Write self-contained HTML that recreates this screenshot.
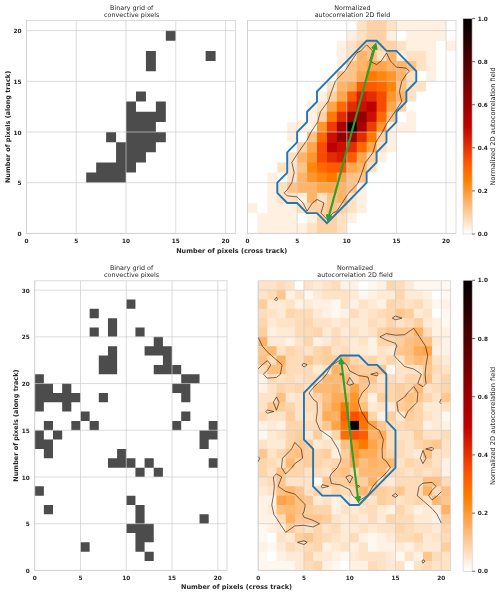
<!DOCTYPE html>
<html lang="en"><head><meta charset="utf-8"><title>Autocorrelation of convective pixel grids</title>
<style>html,body{margin:0;padding:0;background:#fff}svg{display:block}text{font-family:"DejaVu Sans","Liberation Sans",sans-serif}</style></head>
<body><svg width="500" height="595" viewBox="0 0 500 595">
<rect width="500" height="595" fill="#fff"/>
<path fill="#4c4c4c" d="M86.21 172.57H126.02V182.71H86.21ZM96.17 162.43H135.98V172.57H96.17ZM116.07 152.3H145.93V162.43H116.07ZM116.07 142.16H155.88V152.3H116.07ZM106.12 132.02H116.07V142.16H106.12ZM126.02 132.02H165.83V142.16H126.02ZM126.02 121.88H155.88V132.02H126.02ZM126.02 111.74H165.83V121.88H126.02ZM126.02 101.6H135.98V111.74H126.02ZM155.88 101.6H165.83V111.74H155.88ZM135.98 91.47H145.93V101.6H135.98ZM145.93 61.05H155.88V71.19H145.93ZM145.93 50.91H155.88V61.05H145.93ZM205.64 50.91H215.6V61.05H205.64ZM165.83 30.64H175.79V40.78H165.83Z"/>
<g stroke="#cccccc" stroke-width="0.7" fill="none"><line x1="26.5" y1="20.5" x2="26.5" y2="233.4"/><line x1="76.26" y1="20.5" x2="76.26" y2="233.4"/><line x1="126.02" y1="20.5" x2="126.02" y2="233.4"/><line x1="175.79" y1="20.5" x2="175.79" y2="233.4"/><line x1="225.55" y1="20.5" x2="225.55" y2="233.4"/><line x1="26.5" y1="233.4" x2="235.5" y2="233.4"/><line x1="26.5" y1="182.71" x2="235.5" y2="182.71"/><line x1="26.5" y1="132.02" x2="235.5" y2="132.02"/><line x1="26.5" y1="81.33" x2="235.5" y2="81.33"/><line x1="26.5" y1="30.64" x2="235.5" y2="30.64"/></g><rect x="26.5" y="20.5" width="209" height="212.9" fill="none" stroke="#d0d0d0" stroke-width="0.75"/>
<g font-size="5.75" font-weight="bold" fill="#262626"><text x="26.5" y="242.8" text-anchor="middle">0</text><text x="76.26" y="242.8" text-anchor="middle">5</text><text x="126.02" y="242.8" text-anchor="middle">10</text><text x="175.79" y="242.8" text-anchor="middle">15</text><text x="225.55" y="242.8" text-anchor="middle">20</text><text x="21.5" y="236" text-anchor="end">0</text><text x="21.5" y="185" text-anchor="end">5</text><text x="21.5" y="135" text-anchor="end">10</text><text x="21.5" y="84" text-anchor="end">15</text><text x="21.5" y="33" text-anchor="end">20</text></g>
<g font-size="6.4" fill="#262626" text-anchor="middle"><text x="131.7" y="10">Binary grid of</text><text x="131.7" y="17.2">convective pixels</text></g>
<text transform="translate(9.7 127) rotate(-90)" text-anchor="middle" font-size="6.5" font-weight="bold" fill="#262626">Number of pixels (along track)</text>
<g><rect x="247.5" y="20.5" width="109.81" height="10.74" fill="#ffffff"/><rect x="356.71" y="20.5" width="10.53" height="10.74" fill="#ffe1c3"/><rect x="366.64" y="20.5" width="20.46" height="10.74" fill="#ffd2a5"/><rect x="386.5" y="20.5" width="10.53" height="10.74" fill="#ffe1c3"/><rect x="396.43" y="20.5" width="50.24" height="10.74" fill="#fff0e1"/><rect x="446.07" y="20.5" width="9.93" height="10.74" fill="#ffffff"/><rect x="247.5" y="30.64" width="99.89" height="10.74" fill="#ffffff"/><rect x="346.79" y="30.64" width="10.53" height="10.74" fill="#fff0e1"/><rect x="356.71" y="30.64" width="10.53" height="10.74" fill="#ffe1c3"/><rect x="366.64" y="30.64" width="20.46" height="10.74" fill="#ffd2a5"/><rect x="386.5" y="30.64" width="10.53" height="10.74" fill="#fff0e1"/><rect x="396.43" y="30.64" width="10.53" height="10.74" fill="#ffffff"/><rect x="406.36" y="30.64" width="40.31" height="10.74" fill="#fff0e1"/><rect x="446.07" y="30.64" width="9.93" height="10.74" fill="#ffffff"/><rect x="247.5" y="40.78" width="89.96" height="10.74" fill="#ffffff"/><rect x="336.86" y="40.78" width="10.53" height="10.74" fill="#fff0e1"/><rect x="346.79" y="40.78" width="10.53" height="10.74" fill="#ffe1c3"/><rect x="356.71" y="40.78" width="10.53" height="10.74" fill="#ffd2a5"/><rect x="366.64" y="40.78" width="10.53" height="10.74" fill="#ffc387"/><rect x="376.57" y="40.78" width="20.46" height="10.74" fill="#ffd2a5"/><rect x="396.43" y="40.78" width="10.53" height="10.74" fill="#ffe1c3"/><rect x="406.36" y="40.78" width="30.39" height="10.74" fill="#fff0e1"/><rect x="436.14" y="40.78" width="10.53" height="10.74" fill="#ffffff"/><rect x="446.07" y="40.78" width="9.93" height="10.74" fill="#fff0e1"/><rect x="247.5" y="50.91" width="89.96" height="10.74" fill="#ffffff"/><rect x="336.86" y="50.91" width="10.53" height="10.74" fill="#fff0e1"/><rect x="346.79" y="50.91" width="10.53" height="10.74" fill="#ffe1c3"/><rect x="356.71" y="50.91" width="10.53" height="10.74" fill="#ffb469"/><rect x="366.64" y="50.91" width="10.53" height="10.74" fill="#ffc387"/><rect x="376.57" y="50.91" width="10.53" height="10.74" fill="#ffe1c3"/><rect x="386.5" y="50.91" width="10.53" height="10.74" fill="#ffb469"/><rect x="396.43" y="50.91" width="10.53" height="10.74" fill="#fff0e1"/><rect x="406.36" y="50.91" width="20.46" height="10.74" fill="#ffe1c3"/><rect x="426.21" y="50.91" width="10.53" height="10.74" fill="#fff0e1"/><rect x="436.14" y="50.91" width="19.86" height="10.74" fill="#ffffff"/><rect x="247.5" y="61.05" width="89.96" height="10.74" fill="#ffffff"/><rect x="336.86" y="61.05" width="10.53" height="10.74" fill="#fff0e1"/><rect x="346.79" y="61.05" width="10.53" height="10.74" fill="#ffc387"/><rect x="356.71" y="61.05" width="10.53" height="10.74" fill="#ffb469"/><rect x="366.64" y="61.05" width="20.46" height="10.74" fill="#ffa54b"/><rect x="386.5" y="61.05" width="20.46" height="10.74" fill="#ffb469"/><rect x="406.36" y="61.05" width="10.53" height="10.74" fill="#ffc387"/><rect x="416.29" y="61.05" width="10.53" height="10.74" fill="#ffe1c3"/><rect x="426.21" y="61.05" width="10.53" height="10.74" fill="#fff0e1"/><rect x="436.14" y="61.05" width="19.86" height="10.74" fill="#ffffff"/><rect x="247.5" y="71.19" width="89.96" height="10.74" fill="#ffffff"/><rect x="336.86" y="71.19" width="20.46" height="10.74" fill="#ffc387"/><rect x="356.71" y="71.19" width="10.53" height="10.74" fill="#ffa54b"/><rect x="366.64" y="71.19" width="10.53" height="10.74" fill="#ff7800"/><rect x="376.57" y="71.19" width="10.53" height="10.74" fill="#ff870f"/><rect x="386.5" y="71.19" width="10.53" height="10.74" fill="#ff962d"/><rect x="396.43" y="71.19" width="10.53" height="10.74" fill="#ffb469"/><rect x="406.36" y="71.19" width="10.53" height="10.74" fill="#ffe1c3"/><rect x="416.29" y="71.19" width="10.53" height="10.74" fill="#ffffff"/><rect x="426.21" y="71.19" width="10.53" height="10.74" fill="#fff0e1"/><rect x="436.14" y="71.19" width="19.86" height="10.74" fill="#ffffff"/><rect x="247.5" y="81.33" width="80.03" height="10.74" fill="#ffffff"/><rect x="326.93" y="81.33" width="10.53" height="10.74" fill="#ffe1c3"/><rect x="336.86" y="81.33" width="10.53" height="10.74" fill="#ffb469"/><rect x="346.79" y="81.33" width="10.53" height="10.74" fill="#ffa54b"/><rect x="356.71" y="81.33" width="20.46" height="10.74" fill="#ff5a00"/><rect x="376.57" y="81.33" width="10.53" height="10.74" fill="#ff6900"/><rect x="386.5" y="81.33" width="10.53" height="10.74" fill="#ff870f"/><rect x="396.43" y="81.33" width="10.53" height="10.74" fill="#ffc387"/><rect x="406.36" y="81.33" width="20.46" height="10.74" fill="#ffe1c3"/><rect x="426.21" y="81.33" width="29.79" height="10.74" fill="#ffffff"/><rect x="247.5" y="91.47" width="70.1" height="10.74" fill="#ffffff"/><rect x="317" y="91.47" width="10.53" height="10.74" fill="#fff0e1"/><rect x="326.93" y="91.47" width="10.53" height="10.74" fill="#ffd2a5"/><rect x="336.86" y="91.47" width="10.53" height="10.74" fill="#ffa54b"/><rect x="346.79" y="91.47" width="10.53" height="10.74" fill="#ff5a00"/><rect x="356.71" y="91.47" width="10.53" height="10.74" fill="#d61e00"/><rect x="366.64" y="91.47" width="10.53" height="10.74" fill="#e12d00"/><rect x="376.57" y="91.47" width="10.53" height="10.74" fill="#f74b00"/><rect x="386.5" y="91.47" width="10.53" height="10.74" fill="#ff962d"/><rect x="396.43" y="91.47" width="10.53" height="10.74" fill="#ffb469"/><rect x="406.36" y="91.47" width="10.53" height="10.74" fill="#ffe1c3"/><rect x="416.29" y="91.47" width="39.71" height="10.74" fill="#ffffff"/><rect x="247.5" y="101.6" width="60.17" height="10.74" fill="#ffffff"/><rect x="307.07" y="101.6" width="10.53" height="10.74" fill="#fff0e1"/><rect x="317" y="101.6" width="10.53" height="10.74" fill="#ffe1c3"/><rect x="326.93" y="101.6" width="10.53" height="10.74" fill="#ffa54b"/><rect x="336.86" y="101.6" width="10.53" height="10.74" fill="#ff6900"/><rect x="346.79" y="101.6" width="10.53" height="10.74" fill="#e12d00"/><rect x="356.71" y="101.6" width="10.53" height="10.74" fill="#cb0f00"/><rect x="366.64" y="101.6" width="10.53" height="10.74" fill="#bf0000"/><rect x="376.57" y="101.6" width="10.53" height="10.74" fill="#f74b00"/><rect x="386.5" y="101.6" width="10.53" height="10.74" fill="#ffa54b"/><rect x="396.43" y="101.6" width="10.53" height="10.74" fill="#ffd2a5"/><rect x="406.36" y="101.6" width="49.64" height="10.74" fill="#ffffff"/><rect x="247.5" y="111.74" width="60.17" height="10.74" fill="#ffffff"/><rect x="307.07" y="111.74" width="10.53" height="10.74" fill="#fff0e1"/><rect x="317" y="111.74" width="10.53" height="10.74" fill="#ffd2a5"/><rect x="326.93" y="111.74" width="10.53" height="10.74" fill="#ff7800"/><rect x="336.86" y="111.74" width="10.53" height="10.74" fill="#e12d00"/><rect x="346.79" y="111.74" width="10.53" height="10.74" fill="#9e0000"/><rect x="356.71" y="111.74" width="10.53" height="10.74" fill="#920000"/><rect x="366.64" y="111.74" width="10.53" height="10.74" fill="#cb0f00"/><rect x="376.57" y="111.74" width="10.53" height="10.74" fill="#ff6900"/><rect x="386.5" y="111.74" width="10.53" height="10.74" fill="#ffc387"/><rect x="396.43" y="111.74" width="10.53" height="10.74" fill="#ffffff"/><rect x="406.36" y="111.74" width="10.53" height="10.74" fill="#fff0e1"/><rect x="416.29" y="111.74" width="39.71" height="10.74" fill="#ffffff"/><rect x="247.5" y="121.88" width="40.31" height="10.74" fill="#ffffff"/><rect x="287.21" y="121.88" width="30.39" height="10.74" fill="#fff0e1"/><rect x="317" y="121.88" width="10.53" height="10.74" fill="#ff962d"/><rect x="326.93" y="121.88" width="10.53" height="10.74" fill="#ec3c00"/><rect x="336.86" y="121.88" width="10.53" height="10.74" fill="#a90000"/><rect x="346.79" y="121.88" width="10.53" height="10.74" fill="#000000"/><rect x="356.71" y="121.88" width="10.53" height="10.74" fill="#a90000"/><rect x="366.64" y="121.88" width="10.53" height="10.74" fill="#ec3c00"/><rect x="376.57" y="121.88" width="10.53" height="10.74" fill="#ff962d"/><rect x="386.5" y="121.88" width="30.39" height="10.74" fill="#fff0e1"/><rect x="416.29" y="121.88" width="39.71" height="10.74" fill="#ffffff"/><rect x="247.5" y="132.02" width="40.31" height="10.74" fill="#ffffff"/><rect x="287.21" y="132.02" width="10.53" height="10.74" fill="#fff0e1"/><rect x="297.14" y="132.02" width="10.53" height="10.74" fill="#ffffff"/><rect x="307.07" y="132.02" width="10.53" height="10.74" fill="#ffc387"/><rect x="317" y="132.02" width="10.53" height="10.74" fill="#ff6900"/><rect x="326.93" y="132.02" width="10.53" height="10.74" fill="#cb0f00"/><rect x="336.86" y="132.02" width="10.53" height="10.74" fill="#920000"/><rect x="346.79" y="132.02" width="10.53" height="10.74" fill="#9e0000"/><rect x="356.71" y="132.02" width="10.53" height="10.74" fill="#e12d00"/><rect x="366.64" y="132.02" width="10.53" height="10.74" fill="#ff7800"/><rect x="376.57" y="132.02" width="10.53" height="10.74" fill="#ffd2a5"/><rect x="386.5" y="132.02" width="10.53" height="10.74" fill="#fff0e1"/><rect x="396.43" y="132.02" width="59.57" height="10.74" fill="#ffffff"/><rect x="247.5" y="142.16" width="50.24" height="10.74" fill="#ffffff"/><rect x="297.14" y="142.16" width="10.53" height="10.74" fill="#ffd2a5"/><rect x="307.07" y="142.16" width="10.53" height="10.74" fill="#ffa54b"/><rect x="317" y="142.16" width="10.53" height="10.74" fill="#f74b00"/><rect x="326.93" y="142.16" width="10.53" height="10.74" fill="#bf0000"/><rect x="336.86" y="142.16" width="10.53" height="10.74" fill="#cb0f00"/><rect x="346.79" y="142.16" width="10.53" height="10.74" fill="#e12d00"/><rect x="356.71" y="142.16" width="10.53" height="10.74" fill="#ff6900"/><rect x="366.64" y="142.16" width="10.53" height="10.74" fill="#ffa54b"/><rect x="376.57" y="142.16" width="10.53" height="10.74" fill="#ffe1c3"/><rect x="386.5" y="142.16" width="10.53" height="10.74" fill="#fff0e1"/><rect x="396.43" y="142.16" width="59.57" height="10.74" fill="#ffffff"/><rect x="247.5" y="152.3" width="40.31" height="10.74" fill="#ffffff"/><rect x="287.21" y="152.3" width="10.53" height="10.74" fill="#ffe1c3"/><rect x="297.14" y="152.3" width="10.53" height="10.74" fill="#ffb469"/><rect x="307.07" y="152.3" width="10.53" height="10.74" fill="#ff962d"/><rect x="317" y="152.3" width="10.53" height="10.74" fill="#f74b00"/><rect x="326.93" y="152.3" width="10.53" height="10.74" fill="#e12d00"/><rect x="336.86" y="152.3" width="10.53" height="10.74" fill="#d61e00"/><rect x="346.79" y="152.3" width="10.53" height="10.74" fill="#ff5a00"/><rect x="356.71" y="152.3" width="10.53" height="10.74" fill="#ffa54b"/><rect x="366.64" y="152.3" width="10.53" height="10.74" fill="#ffd2a5"/><rect x="376.57" y="152.3" width="10.53" height="10.74" fill="#fff0e1"/><rect x="386.5" y="152.3" width="69.5" height="10.74" fill="#ffffff"/><rect x="247.5" y="162.43" width="30.39" height="10.74" fill="#ffffff"/><rect x="277.29" y="162.43" width="20.46" height="10.74" fill="#ffe1c3"/><rect x="297.14" y="162.43" width="10.53" height="10.74" fill="#ffc387"/><rect x="307.07" y="162.43" width="10.53" height="10.74" fill="#ff870f"/><rect x="317" y="162.43" width="10.53" height="10.74" fill="#ff6900"/><rect x="326.93" y="162.43" width="20.46" height="10.74" fill="#ff5a00"/><rect x="346.79" y="162.43" width="10.53" height="10.74" fill="#ffa54b"/><rect x="356.71" y="162.43" width="10.53" height="10.74" fill="#ffb469"/><rect x="366.64" y="162.43" width="10.53" height="10.74" fill="#ffe1c3"/><rect x="376.57" y="162.43" width="79.43" height="10.74" fill="#ffffff"/><rect x="247.5" y="172.57" width="20.46" height="10.74" fill="#ffffff"/><rect x="267.36" y="172.57" width="10.53" height="10.74" fill="#fff0e1"/><rect x="277.29" y="172.57" width="10.53" height="10.74" fill="#ffffff"/><rect x="287.21" y="172.57" width="10.53" height="10.74" fill="#ffe1c3"/><rect x="297.14" y="172.57" width="10.53" height="10.74" fill="#ffb469"/><rect x="307.07" y="172.57" width="10.53" height="10.74" fill="#ff962d"/><rect x="317" y="172.57" width="10.53" height="10.74" fill="#ff870f"/><rect x="326.93" y="172.57" width="10.53" height="10.74" fill="#ff7800"/><rect x="336.86" y="172.57" width="10.53" height="10.74" fill="#ffa54b"/><rect x="346.79" y="172.57" width="20.46" height="10.74" fill="#ffc387"/><rect x="366.64" y="172.57" width="89.36" height="10.74" fill="#ffffff"/><rect x="247.5" y="182.71" width="20.46" height="10.74" fill="#ffffff"/><rect x="267.36" y="182.71" width="10.53" height="10.74" fill="#fff0e1"/><rect x="277.29" y="182.71" width="10.53" height="10.74" fill="#ffe1c3"/><rect x="287.21" y="182.71" width="10.53" height="10.74" fill="#ffc387"/><rect x="297.14" y="182.71" width="20.46" height="10.74" fill="#ffb469"/><rect x="317" y="182.71" width="20.46" height="10.74" fill="#ffa54b"/><rect x="336.86" y="182.71" width="10.53" height="10.74" fill="#ffb469"/><rect x="346.79" y="182.71" width="10.53" height="10.74" fill="#ffc387"/><rect x="356.71" y="182.71" width="10.53" height="10.74" fill="#fff0e1"/><rect x="366.64" y="182.71" width="89.36" height="10.74" fill="#ffffff"/><rect x="247.5" y="192.85" width="20.46" height="10.74" fill="#ffffff"/><rect x="267.36" y="192.85" width="10.53" height="10.74" fill="#fff0e1"/><rect x="277.29" y="192.85" width="20.46" height="10.74" fill="#ffe1c3"/><rect x="297.14" y="192.85" width="10.53" height="10.74" fill="#fff0e1"/><rect x="307.07" y="192.85" width="10.53" height="10.74" fill="#ffb469"/><rect x="317" y="192.85" width="10.53" height="10.74" fill="#ffe1c3"/><rect x="326.93" y="192.85" width="10.53" height="10.74" fill="#ffc387"/><rect x="336.86" y="192.85" width="10.53" height="10.74" fill="#ffb469"/><rect x="346.79" y="192.85" width="10.53" height="10.74" fill="#ffe1c3"/><rect x="356.71" y="192.85" width="10.53" height="10.74" fill="#fff0e1"/><rect x="366.64" y="192.85" width="89.36" height="10.74" fill="#ffffff"/><rect x="247.5" y="202.99" width="10.53" height="10.74" fill="#fff0e1"/><rect x="257.43" y="202.99" width="10.53" height="10.74" fill="#ffffff"/><rect x="267.36" y="202.99" width="30.39" height="10.74" fill="#fff0e1"/><rect x="297.14" y="202.99" width="10.53" height="10.74" fill="#ffe1c3"/><rect x="307.07" y="202.99" width="20.46" height="10.74" fill="#ffd2a5"/><rect x="326.93" y="202.99" width="10.53" height="10.74" fill="#ffc387"/><rect x="336.86" y="202.99" width="10.53" height="10.74" fill="#ffd2a5"/><rect x="346.79" y="202.99" width="10.53" height="10.74" fill="#ffe1c3"/><rect x="356.71" y="202.99" width="10.53" height="10.74" fill="#fff0e1"/><rect x="366.64" y="202.99" width="89.36" height="10.74" fill="#ffffff"/><rect x="247.5" y="213.12" width="10.53" height="10.74" fill="#ffffff"/><rect x="257.43" y="213.12" width="40.31" height="10.74" fill="#fff0e1"/><rect x="297.14" y="213.12" width="10.53" height="10.74" fill="#ffffff"/><rect x="307.07" y="213.12" width="10.53" height="10.74" fill="#fff0e1"/><rect x="317" y="213.12" width="20.46" height="10.74" fill="#ffd2a5"/><rect x="336.86" y="213.12" width="10.53" height="10.74" fill="#ffe1c3"/><rect x="346.79" y="213.12" width="10.53" height="10.74" fill="#fff0e1"/><rect x="356.71" y="213.12" width="99.29" height="10.74" fill="#ffffff"/><rect x="247.5" y="223.26" width="10.53" height="10.14" fill="#ffffff"/><rect x="257.43" y="223.26" width="50.24" height="10.14" fill="#fff0e1"/><rect x="307.07" y="223.26" width="10.53" height="10.14" fill="#ffe1c3"/><rect x="317" y="223.26" width="20.46" height="10.14" fill="#ffd2a5"/><rect x="336.86" y="223.26" width="10.53" height="10.14" fill="#ffe1c3"/><rect x="346.79" y="223.26" width="109.21" height="10.14" fill="#ffffff"/></g>
<g stroke="#cccccc" stroke-width="0.7" fill="none"><line x1="247.5" y1="20.5" x2="247.5" y2="233.4"/><line x1="297.14" y1="20.5" x2="297.14" y2="233.4"/><line x1="346.79" y1="20.5" x2="346.79" y2="233.4"/><line x1="396.43" y1="20.5" x2="396.43" y2="233.4"/><line x1="446.07" y1="20.5" x2="446.07" y2="233.4"/><line x1="247.5" y1="233.4" x2="456" y2="233.4"/><line x1="247.5" y1="182.71" x2="456" y2="182.71"/><line x1="247.5" y1="132.02" x2="456" y2="132.02"/><line x1="247.5" y1="81.33" x2="456" y2="81.33"/><line x1="247.5" y1="30.64" x2="456" y2="30.64"/></g><rect x="247.5" y="20.5" width="208.5" height="212.9" fill="none" stroke="#d0d0d0" stroke-width="0.75"/>
<path d="M320.97 213.12L326.93 219.21L332.89 213.12L336.86 211.1L342.15 202.99L346.79 195.89L348.77 192.85L356.71 184.74L358.2 182.71L362.01 172.57L365.32 162.43L366.64 161.08L373.1 152.3L375.91 142.16L376.57 141.14L382.53 132.02L386.5 123.91L387.99 121.88L395.1 111.74L396.43 109.72L401.72 101.6L399.41 91.47L401.72 81.33L406.36 74.23L409.34 71.19L406.36 68.15L396.43 67.14L390.47 61.05L386.5 52.94L381.2 61.05L376.57 64.6L369.62 61.05L372.6 50.91L366.64 44.83L360.69 50.91L356.71 52.94L351.42 61.05L346.79 68.15L344.8 71.19L336.86 79.3L335.37 81.33L331.56 91.47L328.25 101.6L326.93 102.96L320.48 111.74L317.66 121.88L317 122.89L311.04 132.02L307.07 140.13L305.58 142.16L298.47 152.3L297.14 154.32L291.85 162.43L294.16 172.57L291.85 182.71L287.21 189.81L284.24 192.85L287.21 195.89L297.14 196.9L303.1 202.99L307.07 211.1L312.37 202.99L317 199.44L323.95 202.99Z" fill="none" stroke="#000" stroke-width="0.55" stroke-linejoin="round"/>
<path d="M366.64 40.78L376.57 40.78L386.5 50.91L396.43 50.91L406.36 61.05L416.29 71.19L416.29 81.33L406.36 91.47L406.36 101.6L396.43 111.74L396.43 121.88L386.5 132.02L386.5 142.16L376.57 152.3L376.57 162.43L366.64 172.57L366.64 182.71L356.71 192.85L346.79 202.99L336.86 213.12L326.93 223.26L317 213.12L307.07 213.12L297.14 202.99L287.21 202.99L277.29 192.85L277.29 182.71L287.21 172.57L287.21 162.43L287.21 152.3L297.14 142.16L297.14 132.02L307.07 121.88L307.07 111.74L317 101.6L317 91.47L326.93 81.33L336.86 71.19L346.79 61.05L356.71 50.91Z" fill="none" stroke="#1f77b4" stroke-width="1.9" stroke-linejoin="miter"/>
<path d="M327.93 219.6L375.57 44.44M331.53 215.57L327.93 219.6L326.86 214.3M371.97 48.47L375.57 44.44L376.64 49.74" fill="none" stroke="#2ca02c" stroke-width="2.1" stroke-linejoin="miter" stroke-linecap="butt"/>
<g font-size="5.75" font-weight="bold" fill="#262626"><text x="247.5" y="242.8" text-anchor="middle">0</text><text x="297.14" y="242.8" text-anchor="middle">5</text><text x="346.79" y="242.8" text-anchor="middle">10</text><text x="396.43" y="242.8" text-anchor="middle">15</text><text x="446.07" y="242.8" text-anchor="middle">20</text></g>
<g font-size="6.4" fill="#262626" text-anchor="middle"><text x="352.45" y="10">Normalized</text><text x="352.45" y="17.2">autocorrelation 2D field</text></g>
<defs><linearGradient id="cb1" x1="0" y1="1" x2="0" y2="0"><stop offset="0%" stop-color="#ffffff"/><stop offset="25%" stop-color="#ff8000"/><stop offset="33.33%" stop-color="#ff5500"/><stop offset="50%" stop-color="#bf0000"/><stop offset="100%" stop-color="#000000"/></linearGradient></defs><rect x="463" y="18.6" width="9.1" height="215.4" fill="url(#cb1)" stroke="#cccccc" stroke-width="0.6"/><g stroke="#262626" stroke-width="0.7"><line x1="472.1" y1="234" x2="475" y2="234"/><line x1="472.1" y1="190.92" x2="475" y2="190.92"/><line x1="472.1" y1="147.84" x2="475" y2="147.84"/><line x1="472.1" y1="104.76" x2="475" y2="104.76"/><line x1="472.1" y1="61.68" x2="475" y2="61.68"/><line x1="472.1" y1="18.6" x2="475" y2="18.6"/></g><g font-size="5.75" font-weight="bold" fill="#262626"><text x="477.7" y="236.05">0.0</text><text x="477.7" y="192.97">0.2</text><text x="477.7" y="149.89">0.4</text><text x="477.7" y="106.81">0.6</text><text x="477.7" y="63.73">0.8</text><text x="477.7" y="20.65">1.0</text></g><text transform="translate(495.3 126.3) rotate(-90)" text-anchor="middle" font-size="6.65" fill="#262626">Normalized 2D autocorrelation field</text>
<text x="231.7" y="253" text-anchor="middle" font-size="6.5" font-weight="bold" fill="#262626">Number of pixels (cross track)</text>
<path fill="#4c4c4c" d="M144.59 551.72H153.74V561.06H144.59ZM80.49 542.37H89.64V551.72H80.49ZM135.43 542.37H144.59V551.72H135.43ZM135.43 533.03H153.74V542.37H135.43ZM126.27 523.69H153.74V533.03H126.27ZM135.43 514.35H144.59V523.69H135.43ZM199.53 514.35H208.69V523.69H199.53ZM43.86 505.01H53.01V514.35H43.86ZM135.43 505.01H144.59V514.35H135.43ZM126.27 495.66H135.43V505.01H126.27ZM34.7 486.32H43.86V495.66H34.7ZM135.43 467.64H144.59V476.98H135.43ZM153.74 467.64H162.9V476.98H153.74ZM107.96 458.3H135.43V467.64H107.96ZM144.59 458.3H153.74V467.64H144.59ZM208.69 458.3H217.84V467.64H208.69ZM43.86 448.95H53.01V458.3H43.86ZM117.11 448.95H126.27V458.3H117.11ZM34.7 439.61H53.01V448.95H34.7ZM199.53 439.61H208.69V448.95H199.53ZM34.7 430.27H43.86V439.61H34.7ZM53.01 430.27H62.17V439.61H53.01ZM199.53 430.27H217.84V439.61H199.53ZM43.86 420.93H53.01V430.27H43.86ZM71.33 420.93H80.49V430.27H71.33ZM89.64 420.93H98.8V430.27H89.64ZM172.06 420.93H181.21V430.27H172.06ZM208.69 420.93H217.84V430.27H208.69ZM80.49 411.59H89.64V420.93H80.49ZM181.21 411.59H190.37V420.93H181.21ZM34.7 402.25H43.86V411.59H34.7ZM62.17 402.25H71.33V411.59H62.17ZM34.7 392.9H80.49V402.25H34.7ZM98.8 392.9H107.96V402.25H98.8ZM181.21 392.9H190.37V402.25H181.21ZM34.7 383.56H53.01V392.9H34.7ZM62.17 383.56H71.33V392.9H62.17ZM172.06 383.56H190.37V392.9H172.06ZM34.7 374.22H43.86V383.56H34.7ZM181.21 374.22H199.53V383.56H181.21ZM98.8 364.88H117.11V374.22H98.8ZM153.74 364.88H181.21V374.22H153.74ZM98.8 355.54H117.11V364.88H98.8ZM162.9 355.54H172.06V364.88H162.9ZM107.96 346.19H117.11V355.54H107.96ZM144.59 346.19H172.06V355.54H144.59ZM153.74 336.85H162.9V346.19H153.74ZM89.64 327.51H98.8V336.85H89.64ZM107.96 327.51H117.11V336.85H107.96ZM135.43 327.51H144.59V336.85H135.43ZM107.96 318.17H117.11V327.51H107.96ZM89.64 308.83H98.8V318.17H89.64ZM126.27 299.48H135.43V308.83H126.27Z"/>
<g stroke="#cccccc" stroke-width="0.7" fill="none"><line x1="34.7" y1="280.8" x2="34.7" y2="570.4"/><line x1="80.49" y1="280.8" x2="80.49" y2="570.4"/><line x1="126.27" y1="280.8" x2="126.27" y2="570.4"/><line x1="172.06" y1="280.8" x2="172.06" y2="570.4"/><line x1="217.84" y1="280.8" x2="217.84" y2="570.4"/><line x1="34.7" y1="570.4" x2="227" y2="570.4"/><line x1="34.7" y1="523.69" x2="227" y2="523.69"/><line x1="34.7" y1="476.98" x2="227" y2="476.98"/><line x1="34.7" y1="430.27" x2="227" y2="430.27"/><line x1="34.7" y1="383.56" x2="227" y2="383.56"/><line x1="34.7" y1="336.85" x2="227" y2="336.85"/><line x1="34.7" y1="290.14" x2="227" y2="290.14"/></g><rect x="34.7" y="280.8" width="192.3" height="289.6" fill="none" stroke="#d0d0d0" stroke-width="0.75"/>
<g font-size="5.75" font-weight="bold" fill="#262626"><text x="34.7" y="579.8" text-anchor="middle">0</text><text x="80.49" y="579.8" text-anchor="middle">5</text><text x="126.27" y="579.8" text-anchor="middle">10</text><text x="172.06" y="579.8" text-anchor="middle">15</text><text x="217.84" y="579.8" text-anchor="middle">20</text><text x="29.7" y="573" text-anchor="end">0</text><text x="29.7" y="526" text-anchor="end">5</text><text x="29.7" y="480" text-anchor="end">10</text><text x="29.7" y="433" text-anchor="end">15</text><text x="29.7" y="386" text-anchor="end">20</text><text x="29.7" y="339" text-anchor="end">25</text><text x="29.7" y="293" text-anchor="end">30</text></g>
<g font-size="6.4" fill="#262626" text-anchor="middle"><text x="131.55" y="270.2">Binary grid of</text><text x="131.55" y="277.4">convective pixels</text></g>
<text transform="translate(18.4 425.6) rotate(-90)" text-anchor="middle" font-size="6.5" font-weight="bold" fill="#262626">Number of pixels (along track)</text>
<g><rect x="258.2" y="280.8" width="18.9" height="9.94" fill="#ffe3c7"/><rect x="276.5" y="280.8" width="9.75" height="9.94" fill="#ffdcb9"/><rect x="285.66" y="280.8" width="9.75" height="9.94" fill="#ffe3c7"/><rect x="294.81" y="280.8" width="9.75" height="9.94" fill="#ffffff"/><rect x="303.96" y="280.8" width="9.75" height="9.94" fill="#ffe3c7"/><rect x="313.11" y="280.8" width="9.75" height="9.94" fill="#ffead5"/><rect x="322.27" y="280.8" width="9.75" height="9.94" fill="#ffe3c7"/><rect x="331.42" y="280.8" width="9.75" height="9.94" fill="#ffdcb9"/><rect x="340.57" y="280.8" width="18.9" height="9.94" fill="#fff1e3"/><rect x="358.88" y="280.8" width="9.75" height="9.94" fill="#ffffff"/><rect x="368.03" y="280.8" width="9.75" height="9.94" fill="#fff8f1"/><rect x="377.18" y="280.8" width="9.75" height="9.94" fill="#fff1e3"/><rect x="386.33" y="280.8" width="9.75" height="9.94" fill="#ffd5ab"/><rect x="395.49" y="280.8" width="9.75" height="9.94" fill="#ffdcb9"/><rect x="404.64" y="280.8" width="9.75" height="9.94" fill="#ffead5"/><rect x="413.79" y="280.8" width="36.61" height="9.94" fill="#fff8f1"/><rect x="258.2" y="290.14" width="9.75" height="9.94" fill="#ffe3c7"/><rect x="267.35" y="290.14" width="9.75" height="9.94" fill="#ffdcb9"/><rect x="276.5" y="290.14" width="9.75" height="9.94" fill="#ffc78f"/><rect x="285.66" y="290.14" width="9.75" height="9.94" fill="#fff1e3"/><rect x="294.81" y="290.14" width="9.75" height="9.94" fill="#ffe3c7"/><rect x="303.96" y="290.14" width="9.75" height="9.94" fill="#fff8f1"/><rect x="313.11" y="290.14" width="9.75" height="9.94" fill="#ffead5"/><rect x="322.27" y="290.14" width="28.06" height="9.94" fill="#ffe3c7"/><rect x="349.72" y="290.14" width="9.75" height="9.94" fill="#ffead5"/><rect x="358.88" y="290.14" width="9.75" height="9.94" fill="#fff8f1"/><rect x="368.03" y="290.14" width="9.75" height="9.94" fill="#fff1e3"/><rect x="377.18" y="290.14" width="18.9" height="9.94" fill="#ffead5"/><rect x="395.49" y="290.14" width="9.75" height="9.94" fill="#ffd5ab"/><rect x="404.64" y="290.14" width="18.9" height="9.94" fill="#ffead5"/><rect x="422.94" y="290.14" width="9.75" height="9.94" fill="#fff1e3"/><rect x="432.1" y="290.14" width="9.75" height="9.94" fill="#ffffff"/><rect x="441.25" y="290.14" width="9.15" height="9.94" fill="#fff8f1"/><rect x="258.2" y="299.48" width="9.75" height="9.94" fill="#ffce9d"/><rect x="267.35" y="299.48" width="18.9" height="9.94" fill="#ffead5"/><rect x="285.66" y="299.48" width="9.75" height="9.94" fill="#ffe3c7"/><rect x="294.81" y="299.48" width="9.75" height="9.94" fill="#fff1e3"/><rect x="303.96" y="299.48" width="9.75" height="9.94" fill="#ffead5"/><rect x="313.11" y="299.48" width="18.9" height="9.94" fill="#fff1e3"/><rect x="331.42" y="299.48" width="9.75" height="9.94" fill="#fff8f1"/><rect x="340.57" y="299.48" width="9.75" height="9.94" fill="#ffe3c7"/><rect x="349.72" y="299.48" width="9.75" height="9.94" fill="#fff1e3"/><rect x="358.88" y="299.48" width="9.75" height="9.94" fill="#ffe3c7"/><rect x="368.03" y="299.48" width="9.75" height="9.94" fill="#ffead5"/><rect x="377.18" y="299.48" width="9.75" height="9.94" fill="#fff1e3"/><rect x="386.33" y="299.48" width="9.75" height="9.94" fill="#ffd5ab"/><rect x="395.49" y="299.48" width="9.75" height="9.94" fill="#ffdcb9"/><rect x="404.64" y="299.48" width="9.75" height="9.94" fill="#ffe3c7"/><rect x="413.79" y="299.48" width="9.75" height="9.94" fill="#ffdcb9"/><rect x="422.94" y="299.48" width="9.75" height="9.94" fill="#ffead5"/><rect x="432.1" y="299.48" width="9.75" height="9.94" fill="#fff8f1"/><rect x="441.25" y="299.48" width="9.15" height="9.94" fill="#fff1e3"/><rect x="258.2" y="308.83" width="9.75" height="9.94" fill="#ffdcb9"/><rect x="267.35" y="308.83" width="9.75" height="9.94" fill="#ffe3c7"/><rect x="276.5" y="308.83" width="9.75" height="9.94" fill="#ffead5"/><rect x="285.66" y="308.83" width="9.75" height="9.94" fill="#ffd5ab"/><rect x="294.81" y="308.83" width="18.9" height="9.94" fill="#ffdcb9"/><rect x="313.11" y="308.83" width="9.75" height="9.94" fill="#ffead5"/><rect x="322.27" y="308.83" width="9.75" height="9.94" fill="#fff1e3"/><rect x="331.42" y="308.83" width="9.75" height="9.94" fill="#fff8f1"/><rect x="340.57" y="308.83" width="9.75" height="9.94" fill="#fff1e3"/><rect x="349.72" y="308.83" width="9.75" height="9.94" fill="#ffdcb9"/><rect x="358.88" y="308.83" width="9.75" height="9.94" fill="#ffead5"/><rect x="368.03" y="308.83" width="9.75" height="9.94" fill="#ffe3c7"/><rect x="377.18" y="308.83" width="9.75" height="9.94" fill="#ffdcb9"/><rect x="386.33" y="308.83" width="9.75" height="9.94" fill="#ffd5ab"/><rect x="395.49" y="308.83" width="9.75" height="9.94" fill="#ffc78f"/><rect x="404.64" y="308.83" width="9.75" height="9.94" fill="#ffce9d"/><rect x="413.79" y="308.83" width="9.75" height="9.94" fill="#ffead5"/><rect x="422.94" y="308.83" width="9.75" height="9.94" fill="#ffe3c7"/><rect x="432.1" y="308.83" width="9.75" height="9.94" fill="#ffffff"/><rect x="441.25" y="308.83" width="9.15" height="9.94" fill="#fff8f1"/><rect x="258.2" y="318.17" width="9.75" height="9.94" fill="#ffd5ab"/><rect x="267.35" y="318.17" width="9.75" height="9.94" fill="#ffead5"/><rect x="276.5" y="318.17" width="18.9" height="9.94" fill="#ffe3c7"/><rect x="294.81" y="318.17" width="9.75" height="9.94" fill="#ffdcb9"/><rect x="303.96" y="318.17" width="9.75" height="9.94" fill="#ffd5ab"/><rect x="313.11" y="318.17" width="18.9" height="9.94" fill="#ffe3c7"/><rect x="331.42" y="318.17" width="9.75" height="9.94" fill="#ffead5"/><rect x="340.57" y="318.17" width="9.75" height="9.94" fill="#ffe3c7"/><rect x="349.72" y="318.17" width="18.9" height="9.94" fill="#ffead5"/><rect x="368.03" y="318.17" width="9.75" height="9.94" fill="#ffdcb9"/><rect x="377.18" y="318.17" width="9.75" height="9.94" fill="#ffe3c7"/><rect x="386.33" y="318.17" width="9.75" height="9.94" fill="#ffd5ab"/><rect x="395.49" y="318.17" width="9.75" height="9.94" fill="#ffe3c7"/><rect x="404.64" y="318.17" width="9.75" height="9.94" fill="#ffdcb9"/><rect x="413.79" y="318.17" width="9.75" height="9.94" fill="#ffce9d"/><rect x="422.94" y="318.17" width="9.75" height="9.94" fill="#ffead5"/><rect x="432.1" y="318.17" width="9.75" height="9.94" fill="#fff1e3"/><rect x="441.25" y="318.17" width="9.15" height="9.94" fill="#fff8f1"/><rect x="258.2" y="327.51" width="9.75" height="9.94" fill="#ffce9d"/><rect x="267.35" y="327.51" width="9.75" height="9.94" fill="#fff1e3"/><rect x="276.5" y="327.51" width="18.9" height="9.94" fill="#ffead5"/><rect x="294.81" y="327.51" width="18.9" height="9.94" fill="#ffdcb9"/><rect x="313.11" y="327.51" width="9.75" height="9.94" fill="#ffd5ab"/><rect x="322.27" y="327.51" width="9.75" height="9.94" fill="#ffead5"/><rect x="331.42" y="327.51" width="9.75" height="9.94" fill="#ffdcb9"/><rect x="340.57" y="327.51" width="9.75" height="9.94" fill="#ffead5"/><rect x="349.72" y="327.51" width="9.75" height="9.94" fill="#ffe3c7"/><rect x="358.88" y="327.51" width="9.75" height="9.94" fill="#ffead5"/><rect x="368.03" y="327.51" width="9.75" height="9.94" fill="#ffe3c7"/><rect x="377.18" y="327.51" width="9.75" height="9.94" fill="#ffce9d"/><rect x="386.33" y="327.51" width="28.06" height="9.94" fill="#ffc78f"/><rect x="413.79" y="327.51" width="9.75" height="9.94" fill="#ffb265"/><rect x="422.94" y="327.51" width="9.75" height="9.94" fill="#ffdcb9"/><rect x="432.1" y="327.51" width="18.3" height="9.94" fill="#fff1e3"/><rect x="258.2" y="336.85" width="9.75" height="9.94" fill="#ffb265"/><rect x="267.35" y="336.85" width="18.9" height="9.94" fill="#ffead5"/><rect x="285.66" y="336.85" width="9.75" height="9.94" fill="#fff1e3"/><rect x="294.81" y="336.85" width="9.75" height="9.94" fill="#ffe3c7"/><rect x="303.96" y="336.85" width="9.75" height="9.94" fill="#ffd5ab"/><rect x="313.11" y="336.85" width="9.75" height="9.94" fill="#fff1e3"/><rect x="322.27" y="336.85" width="9.75" height="9.94" fill="#ffead5"/><rect x="331.42" y="336.85" width="9.75" height="9.94" fill="#ffdcb9"/><rect x="340.57" y="336.85" width="9.75" height="9.94" fill="#ffe3c7"/><rect x="349.72" y="336.85" width="9.75" height="9.94" fill="#ffead5"/><rect x="358.88" y="336.85" width="9.75" height="9.94" fill="#ffe3c7"/><rect x="368.03" y="336.85" width="9.75" height="9.94" fill="#fff1e3"/><rect x="377.18" y="336.85" width="18.9" height="9.94" fill="#ffd5ab"/><rect x="395.49" y="336.85" width="9.75" height="9.94" fill="#ffce9d"/><rect x="404.64" y="336.85" width="9.75" height="9.94" fill="#ffc081"/><rect x="413.79" y="336.85" width="9.75" height="9.94" fill="#ffb973"/><rect x="422.94" y="336.85" width="9.75" height="9.94" fill="#ffc081"/><rect x="432.1" y="336.85" width="9.75" height="9.94" fill="#ffead5"/><rect x="441.25" y="336.85" width="9.15" height="9.94" fill="#fff1e3"/><rect x="258.2" y="346.19" width="9.75" height="9.94" fill="#ffc78f"/><rect x="267.35" y="346.19" width="9.75" height="9.94" fill="#ffb973"/><rect x="276.5" y="346.19" width="9.75" height="9.94" fill="#ffe3c7"/><rect x="285.66" y="346.19" width="9.75" height="9.94" fill="#ffd5ab"/><rect x="294.81" y="346.19" width="9.75" height="9.94" fill="#ffdcb9"/><rect x="303.96" y="346.19" width="9.75" height="9.94" fill="#ffe3c7"/><rect x="313.11" y="346.19" width="9.75" height="9.94" fill="#ffd5ab"/><rect x="322.27" y="346.19" width="9.75" height="9.94" fill="#ffce9d"/><rect x="331.42" y="346.19" width="9.75" height="9.94" fill="#ffe3c7"/><rect x="340.57" y="346.19" width="9.75" height="9.94" fill="#ffdcb9"/><rect x="349.72" y="346.19" width="18.9" height="9.94" fill="#ffead5"/><rect x="368.03" y="346.19" width="9.75" height="9.94" fill="#fff1e3"/><rect x="377.18" y="346.19" width="9.75" height="9.94" fill="#ffe3c7"/><rect x="386.33" y="346.19" width="9.75" height="9.94" fill="#ffead5"/><rect x="395.49" y="346.19" width="9.75" height="9.94" fill="#ffc78f"/><rect x="404.64" y="346.19" width="9.75" height="9.94" fill="#ffc081"/><rect x="413.79" y="346.19" width="9.75" height="9.94" fill="#ffab57"/><rect x="422.94" y="346.19" width="9.75" height="9.94" fill="#ffa449"/><rect x="432.1" y="346.19" width="18.3" height="9.94" fill="#fff1e3"/><rect x="258.2" y="355.54" width="9.75" height="9.94" fill="#ffc081"/><rect x="267.35" y="355.54" width="9.75" height="9.94" fill="#ffdcb9"/><rect x="276.5" y="355.54" width="9.75" height="9.94" fill="#ffb265"/><rect x="285.66" y="355.54" width="18.9" height="9.94" fill="#ffdcb9"/><rect x="303.96" y="355.54" width="9.75" height="9.94" fill="#ffc78f"/><rect x="313.11" y="355.54" width="9.75" height="9.94" fill="#ffd5ab"/><rect x="322.27" y="355.54" width="18.9" height="9.94" fill="#ffce9d"/><rect x="340.57" y="355.54" width="9.75" height="9.94" fill="#ffb973"/><rect x="349.72" y="355.54" width="9.75" height="9.94" fill="#ffd5ab"/><rect x="358.88" y="355.54" width="9.75" height="9.94" fill="#ffdcb9"/><rect x="368.03" y="355.54" width="9.75" height="9.94" fill="#ffd5ab"/><rect x="377.18" y="355.54" width="9.75" height="9.94" fill="#ffe3c7"/><rect x="386.33" y="355.54" width="9.75" height="9.94" fill="#ffd5ab"/><rect x="395.49" y="355.54" width="9.75" height="9.94" fill="#ffe3c7"/><rect x="404.64" y="355.54" width="9.75" height="9.94" fill="#ffc78f"/><rect x="413.79" y="355.54" width="9.75" height="9.94" fill="#ffb973"/><rect x="422.94" y="355.54" width="9.75" height="9.94" fill="#ffc081"/><rect x="432.1" y="355.54" width="9.75" height="9.94" fill="#ffe3c7"/><rect x="441.25" y="355.54" width="9.15" height="9.94" fill="#ffead5"/><rect x="258.2" y="364.88" width="9.75" height="9.94" fill="#ffdcb9"/><rect x="267.35" y="364.88" width="18.9" height="9.94" fill="#ffc081"/><rect x="285.66" y="364.88" width="28.06" height="9.94" fill="#ffdcb9"/><rect x="313.11" y="364.88" width="9.75" height="9.94" fill="#ffead5"/><rect x="322.27" y="364.88" width="9.75" height="9.94" fill="#ffe3c7"/><rect x="331.42" y="364.88" width="9.75" height="9.94" fill="#ffb265"/><rect x="340.57" y="364.88" width="9.75" height="9.94" fill="#ffce9d"/><rect x="349.72" y="364.88" width="9.75" height="9.94" fill="#ffc78f"/><rect x="358.88" y="364.88" width="18.9" height="9.94" fill="#ffce9d"/><rect x="377.18" y="364.88" width="9.75" height="9.94" fill="#ffc78f"/><rect x="386.33" y="364.88" width="9.75" height="9.94" fill="#fff8f1"/><rect x="395.49" y="364.88" width="28.06" height="9.94" fill="#ffe3c7"/><rect x="422.94" y="364.88" width="9.75" height="9.94" fill="#ffc78f"/><rect x="432.1" y="364.88" width="9.75" height="9.94" fill="#ffdcb9"/><rect x="441.25" y="364.88" width="9.15" height="9.94" fill="#ffe3c7"/><rect x="258.2" y="374.22" width="9.75" height="9.94" fill="#fff1e3"/><rect x="267.35" y="374.22" width="9.75" height="9.94" fill="#ffdcb9"/><rect x="276.5" y="374.22" width="9.75" height="9.94" fill="#ffe3c7"/><rect x="285.66" y="374.22" width="9.75" height="9.94" fill="#ffdcb9"/><rect x="294.81" y="374.22" width="9.75" height="9.94" fill="#ffe3c7"/><rect x="303.96" y="374.22" width="18.9" height="9.94" fill="#ffdcb9"/><rect x="322.27" y="374.22" width="28.06" height="9.94" fill="#ffb973"/><rect x="349.72" y="374.22" width="9.75" height="9.94" fill="#ffd5ab"/><rect x="358.88" y="374.22" width="9.75" height="9.94" fill="#ffc081"/><rect x="368.03" y="374.22" width="9.75" height="9.94" fill="#ffc78f"/><rect x="377.18" y="374.22" width="9.75" height="9.94" fill="#ffe3c7"/><rect x="386.33" y="374.22" width="9.75" height="9.94" fill="#ffdcb9"/><rect x="395.49" y="374.22" width="9.75" height="9.94" fill="#ffe3c7"/><rect x="404.64" y="374.22" width="18.9" height="9.94" fill="#ffd5ab"/><rect x="422.94" y="374.22" width="9.75" height="9.94" fill="#ffc081"/><rect x="432.1" y="374.22" width="9.75" height="9.94" fill="#ffe3c7"/><rect x="441.25" y="374.22" width="9.15" height="9.94" fill="#ffd5ab"/><rect x="258.2" y="383.56" width="9.75" height="9.94" fill="#fff1e3"/><rect x="267.35" y="383.56" width="9.75" height="9.94" fill="#ffe3c7"/><rect x="276.5" y="383.56" width="9.75" height="9.94" fill="#ffd5ab"/><rect x="285.66" y="383.56" width="9.75" height="9.94" fill="#ffdcb9"/><rect x="294.81" y="383.56" width="9.75" height="9.94" fill="#ffd5ab"/><rect x="303.96" y="383.56" width="9.75" height="9.94" fill="#ffe3c7"/><rect x="313.11" y="383.56" width="18.9" height="9.94" fill="#ffb973"/><rect x="331.42" y="383.56" width="9.75" height="9.94" fill="#ffb265"/><rect x="340.57" y="383.56" width="9.75" height="9.94" fill="#ffc081"/><rect x="349.72" y="383.56" width="9.75" height="9.94" fill="#ffa449"/><rect x="358.88" y="383.56" width="9.75" height="9.94" fill="#ffc78f"/><rect x="368.03" y="383.56" width="9.75" height="9.94" fill="#ffd5ab"/><rect x="377.18" y="383.56" width="9.75" height="9.94" fill="#ffdcb9"/><rect x="386.33" y="383.56" width="9.75" height="9.94" fill="#ffd5ab"/><rect x="395.49" y="383.56" width="9.75" height="9.94" fill="#ffce9d"/><rect x="404.64" y="383.56" width="9.75" height="9.94" fill="#ffd5ab"/><rect x="413.79" y="383.56" width="9.75" height="9.94" fill="#ffb973"/><rect x="422.94" y="383.56" width="9.75" height="9.94" fill="#ffe3c7"/><rect x="432.1" y="383.56" width="9.75" height="9.94" fill="#ffdcb9"/><rect x="441.25" y="383.56" width="9.15" height="9.94" fill="#ffd5ab"/><rect x="258.2" y="392.9" width="18.9" height="9.94" fill="#ffe3c7"/><rect x="276.5" y="392.9" width="9.75" height="9.94" fill="#ffc081"/><rect x="285.66" y="392.9" width="9.75" height="9.94" fill="#ffead5"/><rect x="294.81" y="392.9" width="9.75" height="9.94" fill="#ffe3c7"/><rect x="303.96" y="392.9" width="9.75" height="9.94" fill="#ffdcb9"/><rect x="313.11" y="392.9" width="9.75" height="9.94" fill="#ffd5ab"/><rect x="322.27" y="392.9" width="9.75" height="9.94" fill="#ffc081"/><rect x="331.42" y="392.9" width="18.9" height="9.94" fill="#ffab57"/><rect x="349.72" y="392.9" width="9.75" height="9.94" fill="#ff962d"/><rect x="358.88" y="392.9" width="9.75" height="9.94" fill="#ffce9d"/><rect x="368.03" y="392.9" width="9.75" height="9.94" fill="#fff1e3"/><rect x="377.18" y="392.9" width="9.75" height="9.94" fill="#ffce9d"/><rect x="386.33" y="392.9" width="9.75" height="9.94" fill="#ffd5ab"/><rect x="395.49" y="392.9" width="9.75" height="9.94" fill="#ffce9d"/><rect x="404.64" y="392.9" width="9.75" height="9.94" fill="#ffc081"/><rect x="413.79" y="392.9" width="9.75" height="9.94" fill="#ffc78f"/><rect x="422.94" y="392.9" width="9.75" height="9.94" fill="#ffd5ab"/><rect x="432.1" y="392.9" width="9.75" height="9.94" fill="#ffe3c7"/><rect x="441.25" y="392.9" width="9.15" height="9.94" fill="#ffc78f"/><rect x="258.2" y="402.25" width="9.75" height="9.94" fill="#ffe3c7"/><rect x="267.35" y="402.25" width="9.75" height="9.94" fill="#ffc78f"/><rect x="276.5" y="402.25" width="9.75" height="9.94" fill="#ffce9d"/><rect x="285.66" y="402.25" width="9.75" height="9.94" fill="#ffd5ab"/><rect x="294.81" y="402.25" width="9.75" height="9.94" fill="#ffe3c7"/><rect x="303.96" y="402.25" width="18.9" height="9.94" fill="#ffdcb9"/><rect x="322.27" y="402.25" width="9.75" height="9.94" fill="#ffb973"/><rect x="331.42" y="402.25" width="9.75" height="9.94" fill="#ffa449"/><rect x="340.57" y="402.25" width="9.75" height="9.94" fill="#ff7a00"/><rect x="349.72" y="402.25" width="9.75" height="9.94" fill="#ff8f1f"/><rect x="358.88" y="402.25" width="9.75" height="9.94" fill="#ffc081"/><rect x="368.03" y="402.25" width="9.75" height="9.94" fill="#ffead5"/><rect x="377.18" y="402.25" width="9.75" height="9.94" fill="#ffe3c7"/><rect x="386.33" y="402.25" width="9.75" height="9.94" fill="#ffead5"/><rect x="395.49" y="402.25" width="9.75" height="9.94" fill="#ffce9d"/><rect x="404.64" y="402.25" width="9.75" height="9.94" fill="#ffc78f"/><rect x="413.79" y="402.25" width="9.75" height="9.94" fill="#ffd5ab"/><rect x="422.94" y="402.25" width="18.9" height="9.94" fill="#ffead5"/><rect x="441.25" y="402.25" width="9.15" height="9.94" fill="#ffe3c7"/><rect x="258.2" y="411.59" width="9.75" height="9.94" fill="#ffdcb9"/><rect x="267.35" y="411.59" width="18.9" height="9.94" fill="#ffe3c7"/><rect x="285.66" y="411.59" width="9.75" height="9.94" fill="#ffce9d"/><rect x="294.81" y="411.59" width="18.9" height="9.94" fill="#ffe3c7"/><rect x="313.11" y="411.59" width="9.75" height="9.94" fill="#ffdcb9"/><rect x="322.27" y="411.59" width="9.75" height="9.94" fill="#ffab57"/><rect x="331.42" y="411.59" width="9.75" height="9.94" fill="#ffb265"/><rect x="340.57" y="411.59" width="9.75" height="9.94" fill="#ff5e00"/><rect x="349.72" y="411.59" width="9.75" height="9.94" fill="#fc5000"/><rect x="358.88" y="411.59" width="9.75" height="9.94" fill="#ff6c00"/><rect x="368.03" y="411.59" width="9.75" height="9.94" fill="#ffd5ab"/><rect x="377.18" y="411.59" width="9.75" height="9.94" fill="#fff1e3"/><rect x="386.33" y="411.59" width="9.75" height="9.94" fill="#ffce9d"/><rect x="395.49" y="411.59" width="9.75" height="9.94" fill="#ffead5"/><rect x="404.64" y="411.59" width="9.75" height="9.94" fill="#ffce9d"/><rect x="413.79" y="411.59" width="9.75" height="9.94" fill="#ffd5ab"/><rect x="422.94" y="411.59" width="9.75" height="9.94" fill="#ffe3c7"/><rect x="432.1" y="411.59" width="9.75" height="9.94" fill="#ffead5"/><rect x="441.25" y="411.59" width="9.15" height="9.94" fill="#fff8f1"/><rect x="258.2" y="420.93" width="9.75" height="9.94" fill="#fff1e3"/><rect x="267.35" y="420.93" width="9.75" height="9.94" fill="#ffead5"/><rect x="276.5" y="420.93" width="9.75" height="9.94" fill="#fff1e3"/><rect x="285.66" y="420.93" width="18.9" height="9.94" fill="#ffd5ab"/><rect x="303.96" y="420.93" width="18.9" height="9.94" fill="#ffdcb9"/><rect x="322.27" y="420.93" width="9.75" height="9.94" fill="#ffc78f"/><rect x="331.42" y="420.93" width="9.75" height="9.94" fill="#ffa449"/><rect x="340.57" y="420.93" width="9.75" height="9.94" fill="#ff7300"/><rect x="349.72" y="420.93" width="9.75" height="9.94" fill="#000000"/><rect x="358.88" y="420.93" width="9.75" height="9.94" fill="#ff7300"/><rect x="368.03" y="420.93" width="9.75" height="9.94" fill="#ffa449"/><rect x="377.18" y="420.93" width="9.75" height="9.94" fill="#ffc78f"/><rect x="386.33" y="420.93" width="18.9" height="9.94" fill="#ffdcb9"/><rect x="404.64" y="420.93" width="18.9" height="9.94" fill="#ffd5ab"/><rect x="422.94" y="420.93" width="9.75" height="9.94" fill="#fff1e3"/><rect x="432.1" y="420.93" width="9.75" height="9.94" fill="#ffead5"/><rect x="441.25" y="420.93" width="9.15" height="9.94" fill="#fff1e3"/><rect x="258.2" y="430.27" width="9.75" height="9.94" fill="#fff8f1"/><rect x="267.35" y="430.27" width="9.75" height="9.94" fill="#ffead5"/><rect x="276.5" y="430.27" width="9.75" height="9.94" fill="#ffe3c7"/><rect x="285.66" y="430.27" width="9.75" height="9.94" fill="#ffd5ab"/><rect x="294.81" y="430.27" width="9.75" height="9.94" fill="#ffce9d"/><rect x="303.96" y="430.27" width="9.75" height="9.94" fill="#ffead5"/><rect x="313.11" y="430.27" width="9.75" height="9.94" fill="#ffce9d"/><rect x="322.27" y="430.27" width="9.75" height="9.94" fill="#fff1e3"/><rect x="331.42" y="430.27" width="9.75" height="9.94" fill="#ffd5ab"/><rect x="340.57" y="430.27" width="9.75" height="9.94" fill="#ff6c00"/><rect x="349.72" y="430.27" width="9.75" height="9.94" fill="#fc5000"/><rect x="358.88" y="430.27" width="9.75" height="9.94" fill="#ff5e00"/><rect x="368.03" y="430.27" width="9.75" height="9.94" fill="#ffb265"/><rect x="377.18" y="430.27" width="9.75" height="9.94" fill="#ffab57"/><rect x="386.33" y="430.27" width="9.75" height="9.94" fill="#ffdcb9"/><rect x="395.49" y="430.27" width="18.9" height="9.94" fill="#ffe3c7"/><rect x="413.79" y="430.27" width="9.75" height="9.94" fill="#ffce9d"/><rect x="422.94" y="430.27" width="18.9" height="9.94" fill="#ffe3c7"/><rect x="441.25" y="430.27" width="9.15" height="9.94" fill="#ffdcb9"/><rect x="258.2" y="439.61" width="9.75" height="9.94" fill="#ffe3c7"/><rect x="267.35" y="439.61" width="18.9" height="9.94" fill="#ffead5"/><rect x="285.66" y="439.61" width="9.75" height="9.94" fill="#ffd5ab"/><rect x="294.81" y="439.61" width="9.75" height="9.94" fill="#ffc78f"/><rect x="303.96" y="439.61" width="9.75" height="9.94" fill="#ffce9d"/><rect x="313.11" y="439.61" width="9.75" height="9.94" fill="#ffead5"/><rect x="322.27" y="439.61" width="9.75" height="9.94" fill="#ffe3c7"/><rect x="331.42" y="439.61" width="9.75" height="9.94" fill="#ffead5"/><rect x="340.57" y="439.61" width="9.75" height="9.94" fill="#ffc081"/><rect x="349.72" y="439.61" width="9.75" height="9.94" fill="#ff8f1f"/><rect x="358.88" y="439.61" width="9.75" height="9.94" fill="#ff7a00"/><rect x="368.03" y="439.61" width="9.75" height="9.94" fill="#ffa449"/><rect x="377.18" y="439.61" width="9.75" height="9.94" fill="#ffb973"/><rect x="386.33" y="439.61" width="18.9" height="9.94" fill="#ffdcb9"/><rect x="404.64" y="439.61" width="9.75" height="9.94" fill="#ffe3c7"/><rect x="413.79" y="439.61" width="9.75" height="9.94" fill="#ffd5ab"/><rect x="422.94" y="439.61" width="9.75" height="9.94" fill="#ffce9d"/><rect x="432.1" y="439.61" width="9.75" height="9.94" fill="#ffc78f"/><rect x="441.25" y="439.61" width="9.15" height="9.94" fill="#ffe3c7"/><rect x="258.2" y="448.95" width="9.75" height="9.94" fill="#ffc78f"/><rect x="267.35" y="448.95" width="9.75" height="9.94" fill="#ffe3c7"/><rect x="276.5" y="448.95" width="9.75" height="9.94" fill="#ffd5ab"/><rect x="285.66" y="448.95" width="9.75" height="9.94" fill="#ffc78f"/><rect x="294.81" y="448.95" width="9.75" height="9.94" fill="#ffc081"/><rect x="303.96" y="448.95" width="9.75" height="9.94" fill="#ffce9d"/><rect x="313.11" y="448.95" width="9.75" height="9.94" fill="#ffd5ab"/><rect x="322.27" y="448.95" width="9.75" height="9.94" fill="#ffce9d"/><rect x="331.42" y="448.95" width="9.75" height="9.94" fill="#fff1e3"/><rect x="340.57" y="448.95" width="9.75" height="9.94" fill="#ffce9d"/><rect x="349.72" y="448.95" width="9.75" height="9.94" fill="#ff962d"/><rect x="358.88" y="448.95" width="18.9" height="9.94" fill="#ffab57"/><rect x="377.18" y="448.95" width="9.75" height="9.94" fill="#ffc081"/><rect x="386.33" y="448.95" width="9.75" height="9.94" fill="#ffd5ab"/><rect x="395.49" y="448.95" width="9.75" height="9.94" fill="#ffdcb9"/><rect x="404.64" y="448.95" width="9.75" height="9.94" fill="#ffe3c7"/><rect x="413.79" y="448.95" width="9.75" height="9.94" fill="#ffead5"/><rect x="422.94" y="448.95" width="9.75" height="9.94" fill="#ffc081"/><rect x="432.1" y="448.95" width="18.3" height="9.94" fill="#ffe3c7"/><rect x="258.2" y="458.3" width="9.75" height="9.94" fill="#ffd5ab"/><rect x="267.35" y="458.3" width="9.75" height="9.94" fill="#ffdcb9"/><rect x="276.5" y="458.3" width="9.75" height="9.94" fill="#ffe3c7"/><rect x="285.66" y="458.3" width="9.75" height="9.94" fill="#ffb973"/><rect x="294.81" y="458.3" width="9.75" height="9.94" fill="#ffd5ab"/><rect x="303.96" y="458.3" width="9.75" height="9.94" fill="#ffce9d"/><rect x="313.11" y="458.3" width="9.75" height="9.94" fill="#ffd5ab"/><rect x="322.27" y="458.3" width="9.75" height="9.94" fill="#ffdcb9"/><rect x="331.42" y="458.3" width="9.75" height="9.94" fill="#ffd5ab"/><rect x="340.57" y="458.3" width="9.75" height="9.94" fill="#ffc78f"/><rect x="349.72" y="458.3" width="9.75" height="9.94" fill="#ffa449"/><rect x="358.88" y="458.3" width="9.75" height="9.94" fill="#ffc081"/><rect x="368.03" y="458.3" width="9.75" height="9.94" fill="#ffb265"/><rect x="377.18" y="458.3" width="18.9" height="9.94" fill="#ffb973"/><rect x="395.49" y="458.3" width="9.75" height="9.94" fill="#ffe3c7"/><rect x="404.64" y="458.3" width="9.75" height="9.94" fill="#ffd5ab"/><rect x="413.79" y="458.3" width="9.75" height="9.94" fill="#ffdcb9"/><rect x="422.94" y="458.3" width="9.75" height="9.94" fill="#ffd5ab"/><rect x="432.1" y="458.3" width="9.75" height="9.94" fill="#ffe3c7"/><rect x="441.25" y="458.3" width="9.15" height="9.94" fill="#fff1e3"/><rect x="258.2" y="467.64" width="9.75" height="9.94" fill="#ffd5ab"/><rect x="267.35" y="467.64" width="9.75" height="9.94" fill="#ffe3c7"/><rect x="276.5" y="467.64" width="9.75" height="9.94" fill="#ffc081"/><rect x="285.66" y="467.64" width="18.9" height="9.94" fill="#ffd5ab"/><rect x="303.96" y="467.64" width="9.75" height="9.94" fill="#ffe3c7"/><rect x="313.11" y="467.64" width="9.75" height="9.94" fill="#ffdcb9"/><rect x="322.27" y="467.64" width="9.75" height="9.94" fill="#ffe3c7"/><rect x="331.42" y="467.64" width="9.75" height="9.94" fill="#ffc78f"/><rect x="340.57" y="467.64" width="9.75" height="9.94" fill="#ffc081"/><rect x="349.72" y="467.64" width="9.75" height="9.94" fill="#ffd5ab"/><rect x="358.88" y="467.64" width="28.06" height="9.94" fill="#ffb973"/><rect x="386.33" y="467.64" width="18.9" height="9.94" fill="#ffdcb9"/><rect x="404.64" y="467.64" width="9.75" height="9.94" fill="#ffe3c7"/><rect x="413.79" y="467.64" width="9.75" height="9.94" fill="#ffdcb9"/><rect x="422.94" y="467.64" width="9.75" height="9.94" fill="#ffe3c7"/><rect x="432.1" y="467.64" width="9.75" height="9.94" fill="#ffdcb9"/><rect x="441.25" y="467.64" width="9.15" height="9.94" fill="#fff1e3"/><rect x="258.2" y="476.98" width="9.75" height="9.94" fill="#ffe3c7"/><rect x="267.35" y="476.98" width="9.75" height="9.94" fill="#ffdcb9"/><rect x="276.5" y="476.98" width="9.75" height="9.94" fill="#ffc78f"/><rect x="285.66" y="476.98" width="28.06" height="9.94" fill="#ffe3c7"/><rect x="313.11" y="476.98" width="9.75" height="9.94" fill="#fff8f1"/><rect x="322.27" y="476.98" width="9.75" height="9.94" fill="#ffc78f"/><rect x="331.42" y="476.98" width="18.9" height="9.94" fill="#ffce9d"/><rect x="349.72" y="476.98" width="9.75" height="9.94" fill="#ffc78f"/><rect x="358.88" y="476.98" width="9.75" height="9.94" fill="#ffce9d"/><rect x="368.03" y="476.98" width="9.75" height="9.94" fill="#ffb265"/><rect x="377.18" y="476.98" width="9.75" height="9.94" fill="#ffe3c7"/><rect x="386.33" y="476.98" width="9.75" height="9.94" fill="#ffead5"/><rect x="395.49" y="476.98" width="28.06" height="9.94" fill="#ffdcb9"/><rect x="422.94" y="476.98" width="18.9" height="9.94" fill="#ffc081"/><rect x="441.25" y="476.98" width="9.15" height="9.94" fill="#ffdcb9"/><rect x="258.2" y="486.32" width="9.75" height="9.94" fill="#ffead5"/><rect x="267.35" y="486.32" width="9.75" height="9.94" fill="#ffe3c7"/><rect x="276.5" y="486.32" width="9.75" height="9.94" fill="#ffc081"/><rect x="285.66" y="486.32" width="9.75" height="9.94" fill="#ffb973"/><rect x="294.81" y="486.32" width="9.75" height="9.94" fill="#ffc78f"/><rect x="303.96" y="486.32" width="9.75" height="9.94" fill="#ffe3c7"/><rect x="313.11" y="486.32" width="9.75" height="9.94" fill="#ffd5ab"/><rect x="322.27" y="486.32" width="9.75" height="9.94" fill="#ffe3c7"/><rect x="331.42" y="486.32" width="9.75" height="9.94" fill="#ffd5ab"/><rect x="340.57" y="486.32" width="9.75" height="9.94" fill="#ffdcb9"/><rect x="349.72" y="486.32" width="9.75" height="9.94" fill="#ffd5ab"/><rect x="358.88" y="486.32" width="9.75" height="9.94" fill="#ffb973"/><rect x="368.03" y="486.32" width="18.9" height="9.94" fill="#ffce9d"/><rect x="386.33" y="486.32" width="9.75" height="9.94" fill="#ffd5ab"/><rect x="395.49" y="486.32" width="9.75" height="9.94" fill="#ffc78f"/><rect x="404.64" y="486.32" width="18.9" height="9.94" fill="#ffdcb9"/><rect x="422.94" y="486.32" width="9.75" height="9.94" fill="#ffb265"/><rect x="432.1" y="486.32" width="9.75" height="9.94" fill="#ffdcb9"/><rect x="441.25" y="486.32" width="9.15" height="9.94" fill="#ffc081"/><rect x="258.2" y="495.66" width="18.9" height="9.94" fill="#fff1e3"/><rect x="276.5" y="495.66" width="9.75" height="9.94" fill="#ffa449"/><rect x="285.66" y="495.66" width="9.75" height="9.94" fill="#ffab57"/><rect x="294.81" y="495.66" width="9.75" height="9.94" fill="#ffc081"/><rect x="303.96" y="495.66" width="9.75" height="9.94" fill="#ffc78f"/><rect x="313.11" y="495.66" width="9.75" height="9.94" fill="#ffead5"/><rect x="322.27" y="495.66" width="9.75" height="9.94" fill="#ffe3c7"/><rect x="331.42" y="495.66" width="9.75" height="9.94" fill="#fff1e3"/><rect x="340.57" y="495.66" width="18.9" height="9.94" fill="#ffead5"/><rect x="358.88" y="495.66" width="9.75" height="9.94" fill="#ffdcb9"/><rect x="368.03" y="495.66" width="9.75" height="9.94" fill="#ffe3c7"/><rect x="377.18" y="495.66" width="9.75" height="9.94" fill="#ffce9d"/><rect x="386.33" y="495.66" width="9.75" height="9.94" fill="#ffd5ab"/><rect x="395.49" y="495.66" width="9.75" height="9.94" fill="#ffe3c7"/><rect x="404.64" y="495.66" width="9.75" height="9.94" fill="#ffdcb9"/><rect x="413.79" y="495.66" width="9.75" height="9.94" fill="#ffd5ab"/><rect x="422.94" y="495.66" width="9.75" height="9.94" fill="#ffe3c7"/><rect x="432.1" y="495.66" width="9.75" height="9.94" fill="#ffb973"/><rect x="441.25" y="495.66" width="9.15" height="9.94" fill="#ffc78f"/><rect x="258.2" y="505.01" width="9.75" height="9.94" fill="#fff1e3"/><rect x="267.35" y="505.01" width="9.75" height="9.94" fill="#ffead5"/><rect x="276.5" y="505.01" width="9.75" height="9.94" fill="#ffc081"/><rect x="285.66" y="505.01" width="9.75" height="9.94" fill="#ffb973"/><rect x="294.81" y="505.01" width="9.75" height="9.94" fill="#ffc081"/><rect x="303.96" y="505.01" width="9.75" height="9.94" fill="#ffce9d"/><rect x="313.11" y="505.01" width="18.9" height="9.94" fill="#ffd5ab"/><rect x="331.42" y="505.01" width="9.75" height="9.94" fill="#fff1e3"/><rect x="340.57" y="505.01" width="9.75" height="9.94" fill="#ffe3c7"/><rect x="349.72" y="505.01" width="9.75" height="9.94" fill="#ffead5"/><rect x="358.88" y="505.01" width="9.75" height="9.94" fill="#ffe3c7"/><rect x="368.03" y="505.01" width="9.75" height="9.94" fill="#ffdcb9"/><rect x="377.18" y="505.01" width="9.75" height="9.94" fill="#ffead5"/><rect x="386.33" y="505.01" width="9.75" height="9.94" fill="#fff1e3"/><rect x="395.49" y="505.01" width="9.75" height="9.94" fill="#ffd5ab"/><rect x="404.64" y="505.01" width="9.75" height="9.94" fill="#ffe3c7"/><rect x="413.79" y="505.01" width="9.75" height="9.94" fill="#fff1e3"/><rect x="422.94" y="505.01" width="18.9" height="9.94" fill="#ffead5"/><rect x="441.25" y="505.01" width="9.15" height="9.94" fill="#ffb265"/><rect x="258.2" y="514.35" width="18.9" height="9.94" fill="#fff1e3"/><rect x="276.5" y="514.35" width="9.75" height="9.94" fill="#ffdcb9"/><rect x="285.66" y="514.35" width="9.75" height="9.94" fill="#ffb265"/><rect x="294.81" y="514.35" width="28.06" height="9.94" fill="#ffc78f"/><rect x="322.27" y="514.35" width="9.75" height="9.94" fill="#ffce9d"/><rect x="331.42" y="514.35" width="9.75" height="9.94" fill="#ffe3c7"/><rect x="340.57" y="514.35" width="9.75" height="9.94" fill="#ffead5"/><rect x="349.72" y="514.35" width="9.75" height="9.94" fill="#ffe3c7"/><rect x="358.88" y="514.35" width="9.75" height="9.94" fill="#ffead5"/><rect x="368.03" y="514.35" width="9.75" height="9.94" fill="#ffdcb9"/><rect x="377.18" y="514.35" width="9.75" height="9.94" fill="#ffead5"/><rect x="386.33" y="514.35" width="9.75" height="9.94" fill="#ffd5ab"/><rect x="395.49" y="514.35" width="18.9" height="9.94" fill="#ffdcb9"/><rect x="413.79" y="514.35" width="18.9" height="9.94" fill="#ffead5"/><rect x="432.1" y="514.35" width="9.75" height="9.94" fill="#fff1e3"/><rect x="441.25" y="514.35" width="9.15" height="9.94" fill="#ffce9d"/><rect x="258.2" y="523.69" width="9.75" height="9.94" fill="#fff8f1"/><rect x="267.35" y="523.69" width="9.75" height="9.94" fill="#fff1e3"/><rect x="276.5" y="523.69" width="9.75" height="9.94" fill="#ffead5"/><rect x="285.66" y="523.69" width="9.75" height="9.94" fill="#ffce9d"/><rect x="294.81" y="523.69" width="9.75" height="9.94" fill="#ffdcb9"/><rect x="303.96" y="523.69" width="9.75" height="9.94" fill="#ffe3c7"/><rect x="313.11" y="523.69" width="9.75" height="9.94" fill="#ffd5ab"/><rect x="322.27" y="523.69" width="9.75" height="9.94" fill="#ffe3c7"/><rect x="331.42" y="523.69" width="9.75" height="9.94" fill="#ffdcb9"/><rect x="340.57" y="523.69" width="18.9" height="9.94" fill="#ffead5"/><rect x="358.88" y="523.69" width="9.75" height="9.94" fill="#ffe3c7"/><rect x="368.03" y="523.69" width="9.75" height="9.94" fill="#ffead5"/><rect x="377.18" y="523.69" width="18.9" height="9.94" fill="#ffe3c7"/><rect x="395.49" y="523.69" width="9.75" height="9.94" fill="#ffd5ab"/><rect x="404.64" y="523.69" width="9.75" height="9.94" fill="#ffdcb9"/><rect x="413.79" y="523.69" width="18.9" height="9.94" fill="#ffe3c7"/><rect x="432.1" y="523.69" width="9.75" height="9.94" fill="#ffead5"/><rect x="441.25" y="523.69" width="9.15" height="9.94" fill="#ffd5ab"/><rect x="258.2" y="533.03" width="9.75" height="9.94" fill="#fff8f1"/><rect x="267.35" y="533.03" width="9.75" height="9.94" fill="#ffffff"/><rect x="276.5" y="533.03" width="9.75" height="9.94" fill="#ffe3c7"/><rect x="285.66" y="533.03" width="9.75" height="9.94" fill="#ffead5"/><rect x="294.81" y="533.03" width="9.75" height="9.94" fill="#ffce9d"/><rect x="303.96" y="533.03" width="9.75" height="9.94" fill="#ffc78f"/><rect x="313.11" y="533.03" width="9.75" height="9.94" fill="#ffd5ab"/><rect x="322.27" y="533.03" width="9.75" height="9.94" fill="#ffdcb9"/><rect x="331.42" y="533.03" width="9.75" height="9.94" fill="#ffe3c7"/><rect x="340.57" y="533.03" width="9.75" height="9.94" fill="#ffead5"/><rect x="349.72" y="533.03" width="9.75" height="9.94" fill="#ffdcb9"/><rect x="358.88" y="533.03" width="9.75" height="9.94" fill="#fff1e3"/><rect x="368.03" y="533.03" width="9.75" height="9.94" fill="#fff8f1"/><rect x="377.18" y="533.03" width="9.75" height="9.94" fill="#fff1e3"/><rect x="386.33" y="533.03" width="9.75" height="9.94" fill="#ffead5"/><rect x="395.49" y="533.03" width="18.9" height="9.94" fill="#ffdcb9"/><rect x="413.79" y="533.03" width="9.75" height="9.94" fill="#ffd5ab"/><rect x="422.94" y="533.03" width="9.75" height="9.94" fill="#ffead5"/><rect x="432.1" y="533.03" width="9.75" height="9.94" fill="#ffe3c7"/><rect x="441.25" y="533.03" width="9.15" height="9.94" fill="#ffdcb9"/><rect x="258.2" y="542.37" width="9.75" height="9.94" fill="#fff1e3"/><rect x="267.35" y="542.37" width="9.75" height="9.94" fill="#fff8f1"/><rect x="276.5" y="542.37" width="9.75" height="9.94" fill="#ffead5"/><rect x="285.66" y="542.37" width="9.75" height="9.94" fill="#ffdcb9"/><rect x="294.81" y="542.37" width="9.75" height="9.94" fill="#ffe3c7"/><rect x="303.96" y="542.37" width="9.75" height="9.94" fill="#ffdcb9"/><rect x="313.11" y="542.37" width="9.75" height="9.94" fill="#ffd5ab"/><rect x="322.27" y="542.37" width="9.75" height="9.94" fill="#fff1e3"/><rect x="331.42" y="542.37" width="9.75" height="9.94" fill="#ffead5"/><rect x="340.57" y="542.37" width="9.75" height="9.94" fill="#ffe3c7"/><rect x="349.72" y="542.37" width="9.75" height="9.94" fill="#fff1e3"/><rect x="358.88" y="542.37" width="9.75" height="9.94" fill="#ffe3c7"/><rect x="368.03" y="542.37" width="9.75" height="9.94" fill="#fff8f1"/><rect x="377.18" y="542.37" width="18.9" height="9.94" fill="#fff1e3"/><rect x="395.49" y="542.37" width="9.75" height="9.94" fill="#ffead5"/><rect x="404.64" y="542.37" width="9.75" height="9.94" fill="#fff1e3"/><rect x="413.79" y="542.37" width="9.75" height="9.94" fill="#ffe3c7"/><rect x="422.94" y="542.37" width="18.9" height="9.94" fill="#ffead5"/><rect x="441.25" y="542.37" width="9.15" height="9.94" fill="#ffce9d"/><rect x="258.2" y="551.72" width="9.75" height="9.94" fill="#fff8f1"/><rect x="267.35" y="551.72" width="9.75" height="9.94" fill="#ffffff"/><rect x="276.5" y="551.72" width="9.75" height="9.94" fill="#fff1e3"/><rect x="285.66" y="551.72" width="18.9" height="9.94" fill="#ffead5"/><rect x="303.96" y="551.72" width="9.75" height="9.94" fill="#ffd5ab"/><rect x="313.11" y="551.72" width="18.9" height="9.94" fill="#ffead5"/><rect x="331.42" y="551.72" width="9.75" height="9.94" fill="#fff1e3"/><rect x="340.57" y="551.72" width="9.75" height="9.94" fill="#fff8f1"/><rect x="349.72" y="551.72" width="9.75" height="9.94" fill="#ffead5"/><rect x="358.88" y="551.72" width="28.06" height="9.94" fill="#ffe3c7"/><rect x="386.33" y="551.72" width="9.75" height="9.94" fill="#ffead5"/><rect x="395.49" y="551.72" width="9.75" height="9.94" fill="#fff8f1"/><rect x="404.64" y="551.72" width="9.75" height="9.94" fill="#ffe3c7"/><rect x="413.79" y="551.72" width="9.75" height="9.94" fill="#fff1e3"/><rect x="422.94" y="551.72" width="9.75" height="9.94" fill="#ffc78f"/><rect x="432.1" y="551.72" width="9.75" height="9.94" fill="#ffdcb9"/><rect x="441.25" y="551.72" width="9.15" height="9.94" fill="#ffe3c7"/><rect x="258.2" y="561.06" width="37.21" height="9.34" fill="#fff8f1"/><rect x="294.81" y="561.06" width="9.75" height="9.34" fill="#ffead5"/><rect x="303.96" y="561.06" width="9.75" height="9.34" fill="#ffdcb9"/><rect x="313.11" y="561.06" width="9.75" height="9.34" fill="#ffd5ab"/><rect x="322.27" y="561.06" width="9.75" height="9.34" fill="#fff1e3"/><rect x="331.42" y="561.06" width="9.75" height="9.34" fill="#fff8f1"/><rect x="340.57" y="561.06" width="9.75" height="9.34" fill="#ffffff"/><rect x="349.72" y="561.06" width="18.9" height="9.34" fill="#fff1e3"/><rect x="368.03" y="561.06" width="9.75" height="9.34" fill="#ffdcb9"/><rect x="377.18" y="561.06" width="9.75" height="9.34" fill="#ffe3c7"/><rect x="386.33" y="561.06" width="9.75" height="9.34" fill="#ffead5"/><rect x="395.49" y="561.06" width="9.75" height="9.34" fill="#ffe3c7"/><rect x="404.64" y="561.06" width="9.75" height="9.34" fill="#ffffff"/><rect x="413.79" y="561.06" width="9.75" height="9.34" fill="#ffe3c7"/><rect x="422.94" y="561.06" width="9.75" height="9.34" fill="#ffdcb9"/><rect x="432.1" y="561.06" width="18.3" height="9.34" fill="#ffe3c7"/></g>
<g stroke="#cccccc" stroke-width="0.7" fill="none"><line x1="258.2" y1="280.8" x2="258.2" y2="570.4"/><line x1="303.96" y1="280.8" x2="303.96" y2="570.4"/><line x1="349.72" y1="280.8" x2="349.72" y2="570.4"/><line x1="395.49" y1="280.8" x2="395.49" y2="570.4"/><line x1="441.25" y1="280.8" x2="441.25" y2="570.4"/><line x1="258.2" y1="570.4" x2="450.4" y2="570.4"/><line x1="258.2" y1="523.69" x2="450.4" y2="523.69"/><line x1="258.2" y1="476.98" x2="450.4" y2="476.98"/><line x1="258.2" y1="430.27" x2="450.4" y2="430.27"/><line x1="258.2" y1="383.56" x2="450.4" y2="383.56"/><line x1="258.2" y1="336.85" x2="450.4" y2="336.85"/><line x1="258.2" y1="290.14" x2="450.4" y2="290.14"/></g><rect x="258.2" y="280.8" width="192.2" height="289.6" fill="none" stroke="#d0d0d0" stroke-width="0.75"/>
<path d="M421.88 561.06L422.94 563.24L425.08 561.06L422.94 559.75ZM297.56 542.37L303.96 544.55L307.17 542.37L303.96 540.74ZM280.01 523.69L285.66 532.33L294.81 525.87L303.96 525.33L313.11 526.96L319.52 523.69L313.11 520.42L303.96 517.15L302.59 514.35L303.96 511.55L305.24 505.01L303.96 503.37L296.41 495.66L294.81 494.03L285.66 491.46L278.11 486.32L281.69 476.98L276.5 473.8L273.39 476.98L274.37 486.32L273.39 495.66L271.76 505.01L273.91 514.35L276.5 518.32ZM352.7 495.66L358.88 500.71L367.11 495.66L368.03 494.96L372.87 486.32L377.18 481.18L382.12 476.98L386.33 472.68L390.45 467.64L386.33 461.33L382.37 458.3L382.12 448.95L383.33 439.61L379.32 430.27L377.18 429.18L368.03 422.66L367.24 420.93L361.47 411.59L358.88 403.65L358.53 402.25L358.88 399.44L362.08 392.9L368.03 386.83L369.63 383.56L368.03 377.02L358.88 375.62L356.13 374.22L349.72 370.95L346.75 364.88L340.57 359.83L332.33 364.88L331.42 365.58L326.58 374.22L322.27 379.36L317.32 383.56L313.11 387.86L309 392.9L313.11 399.21L317.08 402.25L317.32 411.59L316.12 420.93L320.13 430.27L322.27 431.36L331.42 437.88L332.21 439.61L337.98 448.95L340.57 456.9L340.91 458.3L340.57 461.1L337.37 467.64L331.42 473.71L329.82 476.98L331.42 483.52L340.57 484.92L343.32 486.32L349.72 489.59ZM392.28 495.66L395.49 497.3L397.62 495.66L395.49 493.48ZM321.35 486.32L322.27 487.96L328.67 486.32L322.27 484.69ZM358.88 487.26L356.13 486.32L358.88 485.39L359.56 486.32ZM441.25 491.69L437.36 495.66L432.1 499.96L428.59 495.66L432.1 490.29L435.99 486.32L432.1 482.35L422.94 483.15L419.05 486.32L417.3 495.66L422.94 500.6L427.98 505.01L432.1 508.61L437.01 514.35L441.25 522.99M349.72 483.05L345.76 476.98L349.72 475.25L352.7 476.98ZM281.54 467.64L285.66 473.94L291.83 467.64L294.81 463.59L302.59 458.3L301.22 448.95L294.81 442.42L291.61 448.95L285.66 455.03L282.45 458.3ZM258.2 461.57L259.8 458.3L258.2 456.66M420.35 458.3L422.94 463.59L426.05 458.3L422.94 450.36ZM425.69 448.95L432.1 450.59L433.7 448.95L432.1 447.32ZM265.75 411.59L267.35 413.22L273.76 411.59L267.35 409.95ZM398.23 411.59L404.64 418.13L407.84 411.59L413.79 405.51L416.99 402.25L417.91 392.9L413.79 386.6L407.61 392.9L404.64 396.95L396.86 402.25ZM273.39 402.25L276.5 410.19L279.1 402.25L276.5 396.95ZM441.25 398.98L439.65 402.25L441.25 403.88M349.72 385.3L346.75 383.56L349.72 377.49L353.69 383.56ZM417.76 383.56L422.94 386.74L426.05 383.56L425.08 374.22L426.05 364.88L427.69 355.54L425.54 346.19L422.94 342.22L419.43 336.85L413.79 328.21L404.64 334.67L395.49 335.22L386.33 333.58L379.93 336.85L386.33 340.12L395.49 343.39L396.86 346.19L395.49 349L394.2 355.54L395.49 357.17L403.04 364.88L404.64 366.51L413.79 369.08L421.34 374.22ZM340.57 375.15L339.88 374.22L340.57 373.29L343.32 374.22ZM370.77 374.22L377.18 375.85L378.1 374.22L377.18 372.58ZM258.2 368.85L262.09 364.88L267.35 360.58L270.86 364.88L267.35 370.25L263.46 374.22L267.35 378.19L276.5 377.4L280.39 374.22L282.15 364.88L276.5 359.94L271.47 355.54L267.35 351.93L262.43 346.19L258.2 337.55M301.83 364.88L303.96 367.06L307.17 364.88L303.96 363.24ZM392.28 318.17L395.49 319.8L401.89 318.17L395.49 315.99ZM274.37 299.48L276.5 300.79L277.57 299.48L276.5 297.3Z" fill="none" stroke="#000" stroke-width="0.55" stroke-linejoin="round"/>
<path d="M340.57 355.54L358.88 355.54L368.03 364.88L377.18 364.88L386.33 374.22L386.33 420.93L395.49 430.27L395.49 467.64L358.88 505.01L349.72 505.01L340.57 495.66L322.27 495.66L313.11 486.32L313.11 448.95L303.96 439.61L303.96 392.9Z" fill="none" stroke="#1f77b4" stroke-width="1.9" stroke-linejoin="miter"/>
<path d="M341.03 359.31L358.41 501.23M339.22 364.39L341.03 359.31L344.02 363.81M360.23 496.15L358.41 501.23L355.43 496.74" fill="none" stroke="#2ca02c" stroke-width="2.1" stroke-linejoin="miter" stroke-linecap="butt"/>
<g font-size="5.75" font-weight="bold" fill="#262626"><text x="258.2" y="579.8" text-anchor="middle">0</text><text x="303.96" y="579.8" text-anchor="middle">5</text><text x="349.72" y="579.8" text-anchor="middle">10</text><text x="395.49" y="579.8" text-anchor="middle">15</text><text x="441.25" y="579.8" text-anchor="middle">20</text></g>
<g font-size="6.4" fill="#262626" text-anchor="middle"><text x="355" y="270.2">Normalized</text><text x="355" y="277.4">autocorrelation 2D field</text></g>
<defs><linearGradient id="cb2" x1="0" y1="1" x2="0" y2="0"><stop offset="0%" stop-color="#ffffff"/><stop offset="25%" stop-color="#ff8000"/><stop offset="33.33%" stop-color="#ff5500"/><stop offset="50%" stop-color="#bf0000"/><stop offset="100%" stop-color="#000000"/></linearGradient></defs><rect x="463.1" y="280.3" width="9.1" height="291" fill="url(#cb2)" stroke="#cccccc" stroke-width="0.6"/><g stroke="#262626" stroke-width="0.7"><line x1="472.2" y1="571.3" x2="475.1" y2="571.3"/><line x1="472.2" y1="513.1" x2="475.1" y2="513.1"/><line x1="472.2" y1="454.9" x2="475.1" y2="454.9"/><line x1="472.2" y1="396.7" x2="475.1" y2="396.7"/><line x1="472.2" y1="338.5" x2="475.1" y2="338.5"/><line x1="472.2" y1="280.3" x2="475.1" y2="280.3"/></g><g font-size="5.75" font-weight="bold" fill="#262626"><text x="477.8" y="573.35">0.0</text><text x="477.8" y="515.15">0.2</text><text x="477.8" y="456.95">0.4</text><text x="477.8" y="398.75">0.6</text><text x="477.8" y="340.55">0.8</text><text x="477.8" y="282.35">1.0</text></g><text transform="translate(495.3 425.8) rotate(-90)" text-anchor="middle" font-size="6.65" fill="#262626">Normalized 2D autocorrelation field</text>
<text x="236.5" y="589" text-anchor="middle" font-size="6.5" font-weight="bold" fill="#262626">Number of pixels (cross track)</text>
</svg></body></html>
